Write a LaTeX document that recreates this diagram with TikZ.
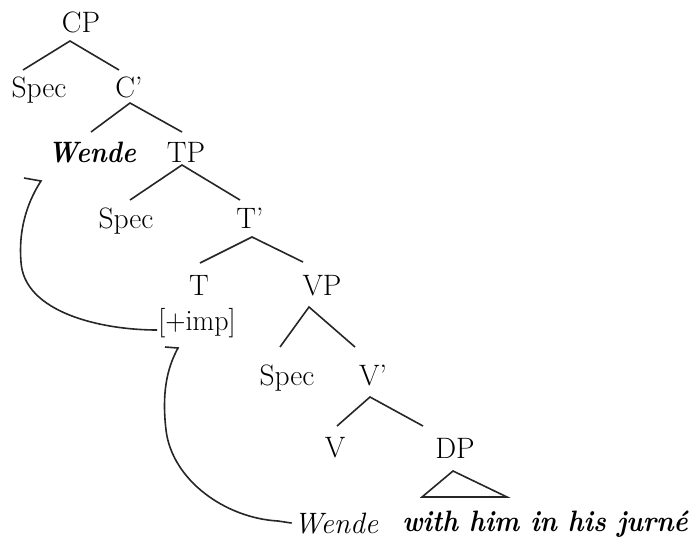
\documentclass[tikz,border=0pt]{standalone}
\usepackage{fontspec}
\begin{document}
\begin{tikzpicture}[x=1pt,y=-1pt,
  lbl/.style={anchor=base,inner sep=0pt,font=\fontsize{29.5}{36}\selectfont\addfontfeatures{FakeBold=0.6}},
  edge/.style={line width=1.6pt,draw=black!85},
  mv/.style={line width=1.6pt,draw=black!85}]
\useasboundingbox (0,0) rectangle (691,539);
% labels
\node[lbl] (CP) at (81,32) {CP};
\node[lbl] (SpecA) at (39,97) {Spec};
\node[lbl] (Cbar) at (129,97) {C’};
\node[lbl,font=\fontsize{29.5}{36}\selectfont\bfseries\itshape] (WendeTop) at (92,162) {\scalebox{0.88}[1]{Wende}};
\node[lbl] (TP) at (186,162) {TP};
\node[lbl] (SpecB) at (126,228) {Spec};
\node[lbl] (Tbar) at (250,228) {T’};
\node[lbl] (T) at (199,295) {T};
\node[lbl] (VP) at (322,295) {VP};
\node[lbl] (imp) at (197,330) {\scalebox{0.95}[1]{[+imp]}};
\node[lbl] (SpecC) at (287,385) {Spec};
\node[lbl] (Vbar) at (373,385) {V’};
\node[lbl] (V) at (335,457) {V};
\node[lbl] (DP) at (455,458) {DP};
\node[lbl,font=\fontsize{29.5}{36}\selectfont\itshape\addfontfeatures{FakeBold=0.6}] (WendeBot) at (336,533) {Wende};
\node[lbl,font=\fontsize{29.5}{36}\selectfont\bfseries\itshape] (phrase) at (545,531) {\scalebox{0.9}[1]{with him in his jurné}};
% branch points
\coordinate (cpB) at (70,41);   \coordinate (specAT) at (23,70);  \coordinate (cbarT) at (119,70);
\coordinate (cbarB) at (130,103); \coordinate (wendeT) at (91,132); \coordinate (tpT) at (182,132);
\coordinate (tpB) at (182,165); \coordinate (specBT) at (130,200); \coordinate (tbarT) at (240,200);
\coordinate (tbarB) at (252,237); \coordinate (tT) at (200,263); \coordinate (vpT) at (303,262);
\coordinate (vpB) at (309,307); \coordinate (specCT) at (280,347); \coordinate (vbarT) at (355,347);
\coordinate (vbarB) at (370,397); \coordinate (vT) at (337,426); \coordinate (dpT) at (423,426);
\coordinate (triA) at (453,471); \coordinate (triL) at (422,497); \coordinate (triR) at (507,497);
% tree edges
\draw[edge] (specAT) -- (cpB) -- (cbarT);
\draw[edge] (wendeT) -- (cbarB) -- (tpT);
\draw[edge] (specBT) -- (tpB) -- (tbarT);
\draw[edge] (tT) -- (tbarB) -- (vpT);
\draw[edge] (specCT) -- (vpB) -- (vbarT);
\draw[edge] (vT) -- (vbarB) -- (dpT);
\draw[edge,line join=miter] (triA) -- (triL) -- (triR) -- cycle;
% movement arrows
\coordinate (tipA) at (41,181); \coordinate (barbA) at (24,178);
\coordinate (tipB) at (178,348); \coordinate (barbB) at (165,347);
\draw[mv] ([xshift=-1pt]imp.base west) .. controls (100,330) and (24,312) .. (21,262)
  .. controls (18,225) and (30,198) .. (tipA) -- (barbA);
\draw[mv] ([xshift=-2pt]WendeBot.west) -- (278,521) .. controls (225,518) and (172,480) .. (166,430)
  .. controls (162,395) and (166,370) .. (tipB) -- (barbB);
\end{tikzpicture}
\end{document}
